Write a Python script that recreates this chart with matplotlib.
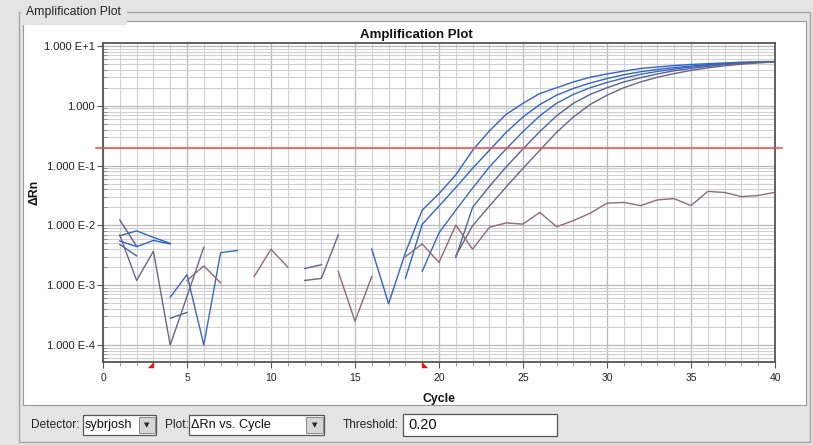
import numpy as np
import matplotlib
matplotlib.use("Agg")
import matplotlib.pyplot as plt
from matplotlib.patches import Rectangle
from matplotlib.ticker import FixedLocator, LogLocator, MultipleLocator, NullFormatter
import matplotlib.transforms as mtransforms

nan = np.nan

# ---------------- data ----------------
cycles = list(range(1, 41))

well_1 = [0.0067, 0.0081, 0.0063, 0.0050, nan, nan, nan, nan, nan, nan,
          nan, nan, nan, nan, nan, 0.0040, 0.00049, 0.0035, 0.018, 0.034,
          0.07, 0.18, 0.38, 0.72, 1.1, 1.6, 2.0, 2.5, 3.0, 3.4,
          3.8, 4.2, 4.45, 4.7, 4.9, 5.05, 5.2, 5.35, 5.45, 5.5]
well_2 = [0.0055, 0.0044, 0.0056, 0.0049, nan, nan, nan, nan, nan, nan,
          nan, nan, nan, nan, nan, nan, nan, 0.0013, 0.0104, 0.021,
          0.043, 0.09, 0.18, 0.36, 0.65, 1.05, 1.5, 1.95, 2.4, 2.85,
          3.3, 3.7, 4.05, 4.35, 4.6, 4.85, 5.05, 5.2, 5.35, 5.45]
well_3 = [0.0048, 0.0031, nan, 0.00063, 0.0015, 0.0001, 0.0035, 0.0038, nan, nan,
          nan, nan, nan, nan, nan, nan, nan, nan, 0.0017, 0.0075,
          0.018, 0.042, 0.095, 0.19, 0.37, 0.68, 1.1, 1.55, 2.0, 2.45,
          2.9, 3.35, 3.75, 4.1, 4.45, 4.75, 5.0, 5.2, 5.35, 5.45]
well_4 = [0.0123, 0.0045, nan, 0.00028, 0.00035, nan, nan, nan, nan, nan,
          nan, 0.0019, 0.0022, nan, nan, nan, nan, nan, nan, nan,
          0.0029, 0.02, 0.045, 0.095, 0.19, 0.37, 0.68, 1.1, 1.55, 2.0,
          2.5, 2.95, 3.4, 3.85, 4.2, 4.55, 4.85, 5.1, 5.3, 5.45]
well_5 = [0.0069, 0.0012, 0.0037, 0.0001, 0.00065, 0.0043, nan, nan, nan, nan,
          nan, 0.0012, 0.0013, 0.0069, nan, nan, nan, nan, nan, nan,
          0.0031, 0.0099, 0.021, 0.044, 0.09, 0.18, 0.36, 0.65, 1.05, 1.5,
          2.0, 2.5, 3.0, 3.45, 3.9, 4.3, 4.65, 4.95, 5.2, 5.4]
well_6 = [nan, nan, nan, nan, 0.0012, 0.0021, 0.0011, nan, 0.0014, 0.004,
          0.002, nan, nan, 0.0017, 0.00025, 0.0014, nan, 0.003, 0.0049, 0.0024,
          0.0101, 0.004, 0.0093, 0.011, 0.0105, 0.0165, 0.0095, 0.012, 0.016, 0.0235,
          0.0242, 0.0214, 0.0267, 0.028, 0.0214, 0.037, 0.0355, 0.0303, 0.0316, 0.0357]

wells = [well_1, well_2, well_3, well_4, well_5, well_6]
well_colors = ['#2f63c9', '#2f63c9', '#3a66c2', '#55609c', '#6b6585', '#8c6a7c']

threshold = 0.20
baseline = [3, 19]

y_tick_values = [1e-4, 1e-3, 1e-2, 1e-1, 1.0, 10.0]
y_tick_labels = ['1.000 E-4', '1.000 E-3', '1.000 E-2', '1.000 E-1', '1.000', '1.000 E+1']
x_tick_values = [0, 5, 10, 15, 20, 25, 30, 35, 40]

# ---------------- figure ----------------
W, H = 813, 445
plt.rcParams['font.family'] = ['Liberation Sans', 'DejaVu Sans']
BG = '#e4e4e4'
fig = plt.figure(figsize=(W / 100, H / 100), dpi=100)
fig.patch.set_facecolor(BG)


def fx(x):
    return x / W


def fy(y):
    return 1 - y / H


def frect(x0, y0, x1, y1, z=-5, **kw):
    r = Rectangle((fx(x0), fy(y1)), fx(x1) - fx(x0), fy(y0) - fy(y1),
                  transform=fig.transFigure, zorder=z, **kw)
    fig.add_artist(r)
    return r


# group box (etched) enclosing plot panel and controls
frect(19, 12, 810, 442, facecolor='none', edgecolor='#a5a5a5', lw=1.0, z=-6)
# white plotting panel
frect(23, 21, 806, 405, facecolor='white', edgecolor='#9a9a9a', lw=0.8, z=-5)
fig.text(fx(26), fy(12), 'Amplification Plot', fontsize=8.8, va='center', ha='left',
         color='#222222', backgroundcolor=BG)

# ---------------- axes ----------------
ax_l, ax_r, ax_t, ax_b = 103, 775, 43, 362
ax = fig.add_axes([fx(ax_l), fy(ax_b), fx(ax_r) - fx(ax_l), fy(ax_t) - fy(ax_b)])
ax.set_zorder(2)
ax.set_facecolor('white')
ax.set_yscale('log')
ax.set_xlim(0, 40)
ax.set_ylim(5.2e-5, 11.2)

ax.yaxis.set_major_locator(FixedLocator(y_tick_values))
ax.set_yticklabels(y_tick_labels)
ax.yaxis.set_minor_locator(LogLocator(base=10, subs=np.arange(2, 10), numticks=20))
ax.yaxis.set_minor_formatter(NullFormatter())
ax.xaxis.set_major_locator(FixedLocator(x_tick_values))
ax.set_xticklabels([str(v) for v in x_tick_values])
ax.xaxis.set_minor_locator(MultipleLocator(1))

ax.grid(True, which='major', axis='both', color='#b8b8b8', lw=0.9, zorder=0)
ax.grid(True, which='minor', axis='both', color='#d0d0d0', lw=0.8, zorder=0)
ax.set_axisbelow(True)

ax.tick_params(axis='y', which='major', labelsize=8, colors='#555555', labelcolor='#222222',
               length=4, width=0.8, pad=2)
ax.tick_params(axis='x', which='major', labelsize=7.5, colors='#555555', labelcolor='#222222',
               length=4, width=0.8, pad=4)
ax.tick_params(axis='y', which='minor', direction='in', length=3, width=0.6, colors='#888888')
ax.tick_params(axis='x', which='minor', direction='out', length=3, width=0.6, colors='#888888')
for s in ax.spines.values():
    s.set_color('#555555')
    s.set_linewidth(1.3)

for vals, col in zip(wells, well_colors):
    ax.plot(cycles, vals, color=col, lw=1.0, zorder=3)

ax.axhline(threshold, xmin=-0.01, xmax=1.01, color='#f84848', lw=1.1, zorder=4, clip_on=False)

# baseline markers
trans = mtransforms.blended_transform_factory(ax.transData, ax.transAxes)
ax.plot([baseline[0]], [0], transform=trans, marker=[(-1, -1), (0, -1), (0, 0)],
        markersize=7, color='#ee1111', clip_on=False, zorder=6, lw=0)
ax.plot([baseline[1]], [0], transform=trans, marker=[(0, 0), (0, -1), (1, -1)],
        markersize=7, color='#ee1111', clip_on=False, zorder=6, lw=0)

fig.text(fx(416), fy(35), 'Amplification Plot', fontsize=9.5, fontweight='bold',
         ha='center', va='center', color='#111111')
ax.set_xlabel('Cycle', fontsize=8.8, fontweight='bold', labelpad=7, color='#111111')
ax.set_ylabel('ΔRn', fontsize=8.8, fontweight='bold', color='#111111')
ax.yaxis.set_label_coords((41 - ax_l) / (ax_r - ax_l), 0.53)

# ---------------- control bar ----------------
cy = 425
ui = 8.6
fig.text(fx(31), fy(cy), 'Detector:', fontsize=ui, va='center', ha='left', color='#222222')
frect(83, cy - 10, 156, cy + 10, facecolor='white', edgecolor='#555555', lw=0.9)
fig.text(fx(85), fy(cy), 'sybrjosh', fontsize=9.2, va='center', ha='left', color='#111111')
frect(139, cy - 8, 155, cy + 8, facecolor='#d6d6d6', edgecolor='#888888', lw=0.7, z=-4)
fig.text(fx(147), fy(cy), '▼', fontsize=5, va='center', ha='center', color='#222222',
         family='DejaVu Sans')

fig.text(fx(165), fy(cy), 'Plot:', fontsize=ui, va='center', ha='left', color='#222222')
frect(189, cy - 10, 324, cy + 10, facecolor='white', edgecolor='#555555', lw=0.9)
fig.text(fx(191), fy(cy), 'ΔRn vs. Cycle', fontsize=9.2, va='center', ha='left', color='#111111')
frect(306, cy - 8, 323, cy + 8, facecolor='#d6d6d6', edgecolor='#888888', lw=0.7, z=-4)
fig.text(fx(314.5), fy(cy), '▼', fontsize=5, va='center', ha='center', color='#222222',
         family='DejaVu Sans')

fig.text(fx(343), fy(cy), 'Threshold:', fontsize=ui, va='center', ha='left', color='#222222')
frect(403, cy - 11, 557, cy + 11, facecolor='white', edgecolor='#555555', lw=0.9)
fig.text(fx(408), fy(cy), '0.20', fontsize=10.5, va='center', ha='left', color='#111111')

fig.savefig('out.png', dpi=100, facecolor=fig.get_facecolor())
